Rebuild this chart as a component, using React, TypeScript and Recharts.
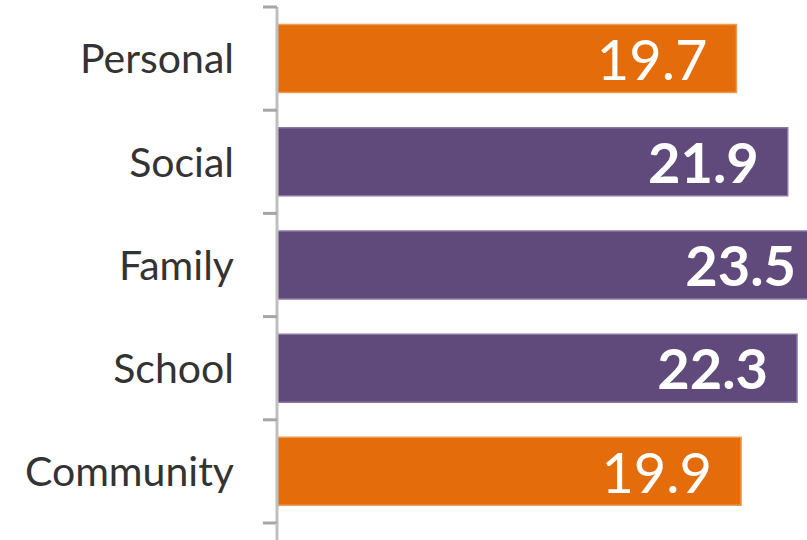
import { BarChart, Bar, XAxis, YAxis, Cell, LabelList } from 'recharts';

const categories = ['Personal', 'Social', 'Family', 'School', 'Community'];
const scores = [19.7, 21.9, 23.5, 22.3, 19.9];
const groups = ['own', 'other', 'other', 'other', 'own'];

const ORANGE = '#E46C0A';
const PURPLE = '#604A7B';

const CHART_W = 860;
const CHART_H = 540;
const TOP = 7;
const BOTTOM = 17;
const AXIS_W = 277;
const band = (CHART_H - TOP - BOTTOM) / categories.length;

const data = categories.map((name, i) => ({
  name,
  score: scores[i],
  group: groups[i],
}));

// Excel style: label on the left, tick marks between the categories
function CategoryTick(props: any) {
  const { x, y, payload, index } = props;
  const last = index === categories.length - 1;
  return (
    <g>
      <line x1={x - 14} x2={x} y1={y - band / 2} y2={y - band / 2} stroke="#A6A6A6" strokeWidth={3} />
      {last && (
        <>
          <line x1={x - 14} x2={x} y1={y + band / 2} y2={y + band / 2} stroke="#A6A6A6" strokeWidth={3} />
          <line x1={x} x2={x} y1={y + band / 2} y2={y + band / 2 + 30} stroke="#BFBFBF" strokeWidth={3} />
        </>
      )}
      <text
        x={x - 43}
        y={y}
        dy="0.36em"
        textAnchor="end"
        fill="#333333"
        fontSize={41}
        fontFamily="Lato"
      >
        {payload.value}
      </text>
    </g>
  );
}

function ValueLabel(props: any) {
  const { x, y, width, height, value, index } = props;
  const bold = data[index].group === 'other';
  return (
    <text
      x={x + width - 29}
      y={y + height / 2}
      dy="0.38em"
      textAnchor="end"
      fill="#FFFFFF"
      fontSize={56}
      fontWeight={bold ? 700 : 400}
      fontFamily="Lato"
    >
      {value}
    </text>
  );
}

export default function App() {
  return (
    <div
      style={{
        position: 'absolute',
        left: 0,
        top: 0,
        width: 807,
        height: 540,
        overflow: 'hidden',
        background: '#FFFFFF',
      }}
    >
      <BarChart
        width={CHART_W}
        height={CHART_H}
        data={data}
        layout="vertical"
        margin={{ top: TOP, right: 0, bottom: BOTTOM, left: 0 }}
        barCategoryGap="17%"
      >
        <XAxis type="number" domain={[0, 25]} hide />
        <YAxis
          type="category"
          dataKey="name"
          width={AXIS_W}
          tickLine={false}
          tickSize={0}
          tickMargin={0}
          axisLine={{ stroke: '#BFBFBF', strokeWidth: 3 }}
          tick={<CategoryTick />}
          interval={0}
        />
        <Bar dataKey="score" isAnimationActive={false}>
          {data.map((d) => (
            <Cell
              key={d.name}
              fill={d.group === 'own' ? ORANGE : PURPLE}
              stroke={d.group === 'own' ? '#EE9A55' : '#8A78A3'}
              strokeWidth={1.5}
            />
          ))}
          <LabelList dataKey="score" content={<ValueLabel />} />
        </Bar>
      </BarChart>
    </div>
  );
}
